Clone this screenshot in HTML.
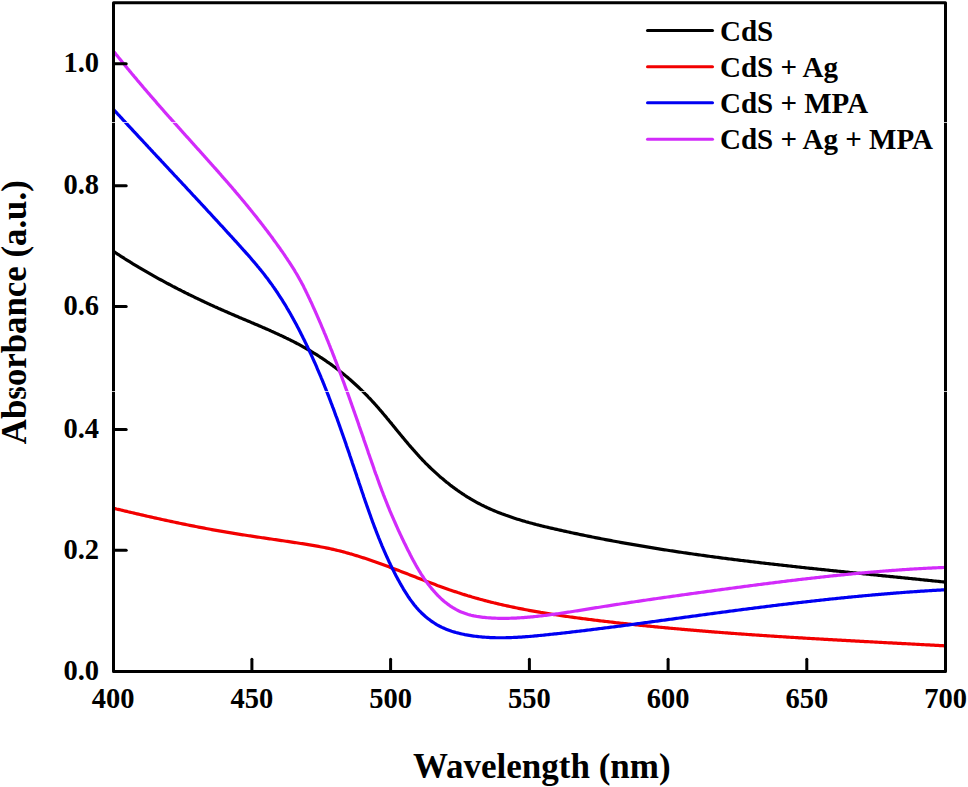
<!DOCTYPE html>
<html><head><meta charset="utf-8"><style>
html,body{margin:0;padding:0;background:#fff;}
svg{display:block;}
text{font-family:"Liberation Serif",serif;font-weight:bold;fill:#000;}
</style></head><body>
<svg width="968" height="787" viewBox="0 0 968 787">
<rect width="968" height="787" fill="#fff"/>
<g fill="none" stroke-width="3.2" stroke-linejoin="round" stroke-linecap="butt">
<path d="M113.4,251.34 L114.7,252.18 L116.0,253.01 L117.2,253.84 L118.5,254.67 L119.8,255.49 L121.0,256.31 L122.3,257.12 L123.6,257.93 L124.8,258.74 L126.1,259.54 L127.4,260.34 L128.7,261.14 L130.0,261.93 L131.2,262.72 L132.5,263.51 L133.8,264.29 L135.1,265.07 L136.4,265.85 L137.7,266.62 L138.9,267.39 L140.2,268.16 L141.5,268.93 L142.8,269.69 L144.1,270.44 L145.4,271.20 L146.7,271.95 L148.0,272.70 L149.3,273.44 L150.6,274.18 L151.9,274.92 L153.2,275.66 L154.5,276.39 L155.8,277.12 L157.1,277.84 L158.4,278.57 L159.7,279.29 L161.1,280.01 L162.4,280.72 L163.7,281.43 L165.0,282.14 L166.3,282.85 L167.6,283.55 L169.0,284.25 L170.3,284.95 L171.6,285.65 L172.9,286.34 L174.3,287.03 L175.6,287.72 L176.9,288.40 L178.2,289.08 L179.6,289.76 L180.9,290.44 L182.2,291.11 L183.6,291.79 L184.9,292.45 L186.2,293.12 L187.6,293.79 L188.9,294.45 L190.3,295.11 L191.6,295.76 L193.0,296.42 L194.3,297.07 L195.6,297.72 L197.0,298.37 L198.3,299.02 L199.7,299.66 L201.0,300.30 L202.4,300.94 L203.8,301.57 L205.1,302.21 L206.5,302.84 L207.8,303.47 L209.2,304.10 L210.5,304.73 L211.9,305.35 L213.3,305.97 L214.6,306.59 L216.0,307.21 L217.4,307.82 L218.7,308.44 L220.1,309.05 L221.5,309.66 L222.9,310.27 L224.2,310.87 L225.6,311.48 L227.0,312.08 L228.4,312.68 L229.7,313.28 L231.1,313.88 L232.5,314.47 L233.9,315.07 L235.3,315.66 L236.7,316.25 L238.1,316.84 L239.4,317.43 L240.8,318.02 L242.2,318.61 L243.6,319.20 L245.0,319.79 L246.4,320.38 L247.8,320.96 L249.2,321.55 L250.6,322.14 L251.9,322.73 L253.3,323.32 L254.7,323.91 L256.1,324.50 L257.5,325.09 L258.9,325.69 L260.3,326.28 L261.7,326.88 L263.0,327.48 L264.4,328.08 L265.8,328.68 L267.2,329.29 L268.6,329.89 L270.0,330.50 L271.3,331.12 L272.7,331.73 L274.1,332.35 L275.4,332.97 L276.8,333.60 L278.2,334.23 L279.5,334.86 L280.9,335.49 L282.3,336.13 L283.6,336.78 L285.0,337.43 L286.3,338.08 L287.7,338.74 L289.0,339.40 L290.4,340.06 L291.7,340.74 L293.1,341.41 L294.4,342.09 L295.7,342.78 L297.0,343.47 L298.4,344.17 L299.7,344.88 L301.0,345.59 L302.3,346.31 L303.6,347.03 L304.9,347.76 L306.2,348.50 L307.5,349.24 L308.8,349.99 L310.1,350.75 L311.4,351.51 L312.7,352.29 L313.9,353.06 L315.2,353.85 L316.5,354.64 L317.7,355.44 L319.0,356.25 L320.2,357.06 L321.5,357.88 L322.7,358.70 L324.0,359.54 L325.2,360.38 L326.4,361.22 L327.6,362.07 L328.9,362.93 L330.1,363.80 L331.3,364.67 L332.5,365.55 L333.7,366.44 L334.9,367.33 L336.1,368.23 L337.3,369.13 L338.4,370.04 L339.6,370.96 L340.8,371.89 L341.9,372.82 L343.1,373.76 L344.3,374.70 L345.4,375.65 L346.5,376.61 L347.7,377.57 L348.8,378.54 L350.0,379.51 L351.1,380.49 L352.2,381.48 L353.3,382.47 L354.4,383.47 L355.5,384.48 L356.6,385.49 L357.7,386.51 L358.8,387.54 L359.9,388.57 L361.0,389.60 L362.0,390.64 L363.1,391.69 L364.2,392.75 L365.2,393.81 L366.3,394.87 L367.3,395.95 L368.3,397.02 L369.4,398.11 L370.4,399.20 L371.4,400.29 L372.4,401.40 L373.5,402.50 L374.5,403.61 L375.5,404.73 L376.5,405.85 L377.5,406.98 L378.5,408.11 L379.4,409.24 L380.4,410.38 L381.4,411.52 L382.4,412.67 L383.3,413.82 L384.3,414.97 L385.3,416.12 L386.3,417.28 L387.2,418.44 L388.2,419.60 L389.1,420.76 L390.1,421.93 L391.1,423.09 L392.0,424.26 L393.0,425.43 L393.9,426.60 L394.9,427.77 L395.8,428.94 L396.8,430.11 L397.7,431.28 L398.7,432.44 L399.7,433.61 L400.6,434.78 L401.6,435.95 L402.5,437.11 L403.5,438.28 L404.5,439.44 L405.4,440.60 L406.4,441.76 L407.4,442.91 L408.3,444.06 L409.3,445.21 L410.3,446.36 L411.3,447.50 L412.3,448.64 L413.3,449.78 L414.3,450.91 L415.3,452.04 L416.3,453.16 L417.3,454.28 L418.3,455.40 L419.3,456.50 L420.3,457.61 L421.4,458.71 L422.4,459.80 L423.4,460.88 L424.5,461.97 L425.5,463.04 L426.6,464.11 L427.7,465.17 L428.7,466.23 L429.8,467.28 L430.9,468.32 L432.0,469.36 L433.1,470.39 L434.2,471.41 L435.3,472.42 L436.4,473.43 L437.5,474.43 L438.6,475.43 L439.7,476.42 L440.9,477.40 L442.0,478.37 L443.2,479.33 L444.3,480.29 L445.5,481.24 L446.6,482.18 L447.8,483.11 L449.0,484.04 L450.1,484.95 L451.3,485.86 L452.5,486.76 L453.7,487.65 L454.9,488.53 L456.1,489.40 L457.3,490.27 L458.6,491.12 L459.8,491.97 L461.0,492.81 L462.2,493.63 L463.5,494.45 L464.7,495.26 L466.0,496.06 L467.2,496.85 L468.5,497.63 L469.8,498.40 L471.0,499.16 L472.3,499.91 L473.6,500.65 L474.9,501.37 L476.2,502.09 L477.5,502.80 L478.8,503.50 L480.1,504.18 L481.4,504.86 L482.8,505.52 L484.1,506.18 L485.4,506.82 L486.8,507.46 L488.1,508.08 L489.5,508.69 L490.8,509.30 L492.2,509.89 L493.6,510.48 L494.9,511.05 L496.3,511.62 L497.7,512.18 L499.1,512.73 L500.5,513.27 L501.8,513.80 L503.2,514.32 L504.6,514.84 L506.0,515.35 L507.5,515.85 L508.9,516.34 L510.3,516.83 L511.7,517.31 L513.1,517.78 L514.5,518.24 L516.0,518.70 L517.4,519.15 L518.8,519.59 L520.3,520.03 L521.7,520.46 L523.1,520.89 L524.6,521.31 L526.0,521.73 L527.5,522.13 L528.9,522.54 L530.4,522.94 L531.8,523.33 L533.3,523.72 L534.8,524.11 L536.2,524.49 L537.7,524.86 L539.2,525.23 L540.6,525.60 L542.1,525.97 L543.6,526.33 L545.0,526.68 L546.5,527.04 L548.0,527.39 L549.4,527.73 L550.9,528.08 L552.4,528.42 L553.9,528.76 L555.3,529.10 L556.8,529.43 L558.3,529.77 L559.8,530.10 L561.2,530.43 L562.7,530.75 L564.2,531.08 L565.7,531.41 L567.1,531.73 L568.6,532.05 L570.1,532.37 L571.6,532.69 L573.0,533.00 L574.5,533.32 L576.0,533.63 L577.5,533.94 L578.9,534.25 L580.4,534.56 L581.9,534.87 L583.4,535.17 L584.8,535.48 L586.3,535.78 L587.8,536.08 L589.3,536.38 L590.8,536.68 L592.2,536.97 L593.7,537.27 L595.2,537.56 L596.7,537.85 L598.1,538.14 L599.6,538.43 L601.1,538.72 L602.6,539.00 L604.0,539.29 L605.5,539.57 L607.0,539.85 L608.5,540.13 L610.0,540.41 L611.4,540.69 L612.9,540.97 L614.4,541.24 L615.9,541.51 L617.3,541.78 L618.8,542.05 L620.3,542.32 L621.8,542.59 L623.3,542.86 L624.7,543.12 L626.2,543.39 L627.7,543.65 L629.2,543.91 L630.7,544.17 L632.1,544.43 L633.6,544.68 L635.1,544.94 L636.6,545.19 L638.1,545.45 L639.5,545.70 L641.0,545.95 L642.5,546.20 L644.0,546.45 L645.4,546.69 L646.9,546.94 L648.4,547.19 L649.9,547.43 L651.4,547.67 L652.8,547.91 L654.3,548.15 L655.8,548.39 L657.3,548.63 L658.8,548.86 L660.2,549.10 L661.7,549.33 L663.2,549.57 L664.7,549.80 L666.2,550.03 L667.7,550.26 L669.1,550.49 L670.6,550.71 L672.1,550.94 L673.6,551.16 L675.1,551.39 L676.5,551.61 L678.0,551.83 L679.5,552.05 L681.0,552.27 L682.5,552.49 L683.9,552.71 L685.4,552.93 L686.9,553.14 L688.4,553.36 L689.9,553.57 L691.4,553.78 L692.8,554.00 L694.3,554.21 L695.8,554.42 L697.3,554.63 L698.8,554.83 L700.3,555.04 L701.7,555.25 L703.2,555.45 L704.7,555.66 L706.2,555.86 L707.7,556.06 L709.2,556.26 L710.6,556.46 L712.1,556.66 L713.6,556.86 L715.1,557.06 L716.6,557.26 L718.1,557.45 L719.5,557.65 L721.0,557.84 L722.5,558.04 L724.0,558.23 L725.5,558.42 L727.0,558.61 L728.4,558.80 L729.9,558.99 L731.4,559.18 L732.9,559.37 L734.4,559.56 L735.9,559.74 L737.3,559.93 L738.8,560.12 L740.3,560.30 L741.8,560.48 L743.3,560.67 L744.8,560.85 L746.3,561.03 L747.7,561.21 L749.2,561.39 L750.7,561.57 L752.2,561.75 L753.7,561.93 L755.2,562.11 L756.7,562.28 L758.1,562.46 L759.6,562.64 L761.1,562.81 L762.6,562.98 L764.1,563.16 L765.6,563.33 L767.1,563.50 L768.6,563.68 L770.0,563.85 L771.5,564.02 L773.0,564.19 L774.5,564.36 L776.0,564.53 L777.5,564.70 L779.0,564.86 L780.5,565.03 L781.9,565.20 L783.4,565.37 L784.9,565.53 L786.4,565.70 L787.9,565.86 L789.4,566.03 L790.9,566.19 L792.4,566.36 L793.8,566.52 L795.3,566.68 L796.8,566.84 L798.3,567.01 L799.8,567.17 L801.3,567.33 L802.8,567.49 L804.3,567.65 L805.8,567.81 L807.2,567.97 L808.7,568.13 L810.2,568.29 L811.7,568.45 L813.2,568.60 L814.7,568.76 L816.2,568.92 L817.7,569.08 L819.2,569.23 L820.7,569.39 L822.1,569.55 L823.6,569.70 L825.1,569.86 L826.6,570.01 L828.1,570.17 L829.6,570.32 L831.1,570.48 L832.6,570.63 L834.1,570.79 L835.6,570.94 L837.1,571.09 L838.5,571.25 L840.0,571.40 L841.5,571.55 L843.0,571.71 L844.5,571.86 L846.0,572.01 L847.5,572.16 L849.0,572.32 L850.5,572.47 L852.0,572.62 L853.5,572.77 L855.0,572.92 L856.4,573.07 L857.9,573.22 L859.4,573.38 L860.9,573.53 L862.4,573.68 L863.9,573.83 L865.4,573.98 L866.9,574.13 L868.4,574.28 L869.9,574.43 L871.4,574.58 L872.9,574.73 L874.4,574.88 L875.9,575.03 L877.4,575.18 L878.8,575.33 L880.3,575.48 L881.8,575.64 L883.3,575.79 L884.8,575.94 L886.3,576.09 L887.8,576.24 L889.3,576.39 L890.8,576.54 L892.3,576.69 L893.8,576.84 L895.3,576.99 L896.8,577.14 L898.3,577.29 L899.8,577.44 L901.3,577.59 L902.8,577.75 L904.3,577.90 L905.8,578.05 L907.3,578.20 L908.8,578.35 L910.2,578.51 L911.7,578.66 L913.2,578.81 L914.7,578.96 L916.2,579.12 L917.7,579.27 L919.2,579.42 L920.7,579.57 L922.2,579.73 L923.7,579.88 L925.2,580.04 L926.7,580.19 L928.2,580.34 L929.7,580.50 L931.2,580.65 L932.7,580.81 L934.2,580.97 L935.7,581.12 L937.2,581.28 L938.7,581.43 L940.2,581.59 L941.7,581.75 L943.2,581.91 L944.7,582.06 L944.8,582.07" stroke="#000000"/>
<path d="M113.6,508.26 L115.1,508.61 L116.5,508.97 L118.0,509.32 L119.5,509.67 L120.9,510.02 L122.4,510.37 L123.8,510.72 L125.3,511.07 L126.8,511.41 L128.2,511.76 L129.7,512.10 L131.2,512.45 L132.6,512.79 L134.1,513.14 L135.5,513.48 L137.0,513.82 L138.5,514.16 L139.9,514.50 L141.4,514.83 L142.8,515.17 L144.3,515.51 L145.8,515.84 L147.2,516.18 L148.7,516.51 L150.2,516.84 L151.6,517.17 L153.1,517.50 L154.5,517.83 L156.0,518.15 L157.5,518.48 L158.9,518.81 L160.4,519.13 L161.9,519.45 L163.3,519.77 L164.8,520.09 L166.2,520.41 L167.7,520.73 L169.2,521.04 L170.6,521.36 L172.1,521.67 L173.6,521.98 L175.0,522.29 L176.5,522.60 L178.0,522.91 L179.4,523.22 L180.9,523.52 L182.4,523.82 L183.8,524.13 L185.3,524.43 L186.8,524.72 L188.2,525.02 L189.7,525.32 L191.2,525.61 L192.6,525.90 L194.1,526.19 L195.6,526.48 L197.1,526.77 L198.5,527.06 L200.0,527.34 L201.5,527.63 L202.9,527.91 L204.4,528.19 L205.9,528.46 L207.4,528.74 L208.8,529.01 L210.3,529.29 L211.8,529.56 L213.2,529.83 L214.7,530.09 L216.2,530.36 L217.7,530.62 L219.1,530.88 L220.6,531.14 L222.1,531.40 L223.6,531.65 L225.1,531.91 L226.5,532.16 L228.0,532.41 L229.5,532.66 L231.0,532.90 L232.5,533.15 L233.9,533.39 L235.4,533.63 L236.9,533.87 L238.4,534.10 L239.9,534.34 L241.3,534.57 L242.8,534.81 L244.3,535.04 L245.8,535.27 L247.3,535.49 L248.8,535.72 L250.3,535.95 L251.7,536.17 L253.2,536.40 L254.7,536.62 L256.2,536.84 L257.7,537.06 L259.2,537.28 L260.7,537.50 L262.1,537.72 L263.6,537.94 L265.1,538.16 L266.6,538.38 L268.1,538.60 L269.6,538.81 L271.1,539.03 L272.6,539.25 L274.0,539.47 L275.5,539.69 L277.0,539.90 L278.5,540.12 L280.0,540.34 L281.5,540.56 L283.0,540.78 L284.5,541.00 L286.0,541.22 L287.4,541.44 L288.9,541.66 L290.4,541.88 L291.9,542.11 L293.4,542.33 L294.9,542.56 L296.4,542.78 L297.8,543.01 L299.3,543.24 L300.8,543.47 L302.3,543.70 L303.8,543.93 L305.3,544.17 L306.8,544.41 L308.2,544.65 L309.7,544.89 L311.2,545.14 L312.7,545.39 L314.2,545.64 L315.6,545.90 L317.1,546.16 L318.6,546.42 L320.1,546.70 L321.5,546.97 L323.0,547.25 L324.5,547.54 L326.0,547.84 L327.4,548.14 L328.9,548.44 L330.4,548.76 L331.8,549.08 L333.3,549.40 L334.7,549.74 L336.2,550.08 L337.6,550.43 L339.1,550.79 L340.6,551.16 L342.0,551.53 L343.4,551.91 L344.9,552.30 L346.3,552.69 L347.8,553.09 L349.2,553.49 L350.6,553.91 L352.1,554.32 L353.5,554.75 L354.9,555.18 L356.4,555.61 L357.8,556.05 L359.2,556.50 L360.7,556.95 L362.1,557.41 L363.5,557.87 L364.9,558.33 L366.4,558.80 L367.8,559.28 L369.2,559.76 L370.6,560.24 L372.0,560.73 L373.4,561.22 L374.9,561.72 L376.3,562.21 L377.7,562.72 L379.1,563.22 L380.5,563.73 L381.9,564.24 L383.3,564.76 L384.7,565.28 L386.1,565.80 L387.5,566.32 L388.9,566.85 L390.3,567.38 L391.8,567.91 L393.2,568.44 L394.6,568.97 L396.0,569.51 L397.4,570.04 L398.8,570.58 L400.2,571.12 L401.6,571.66 L403.0,572.20 L404.4,572.75 L405.8,573.29 L407.2,573.83 L408.6,574.38 L410.0,574.92 L411.4,575.47 L412.8,576.01 L414.2,576.55 L415.6,577.10 L417.0,577.64 L418.4,578.19 L419.8,578.73 L421.2,579.27 L422.6,579.81 L424.0,580.35 L425.4,580.89 L426.8,581.42 L428.2,581.96 L429.6,582.49 L431.0,583.02 L432.4,583.55 L433.8,584.08 L435.2,584.60 L436.6,585.13 L438.0,585.65 L439.5,586.16 L440.9,586.68 L442.3,587.19 L443.7,587.70 L445.1,588.20 L446.5,588.70 L447.9,589.20 L449.3,589.70 L450.8,590.19 L452.2,590.67 L453.6,591.16 L455.0,591.63 L456.4,592.11 L457.8,592.58 L459.3,593.04 L460.7,593.50 L462.1,593.96 L463.5,594.41 L465.0,594.85 L466.4,595.29 L467.8,595.73 L469.3,596.16 L470.7,596.59 L472.1,597.01 L473.6,597.42 L475.0,597.84 L476.5,598.25 L477.9,598.65 L479.3,599.05 L480.8,599.44 L482.2,599.83 L483.7,600.22 L485.1,600.60 L486.6,600.98 L488.0,601.35 L489.5,601.72 L490.9,602.09 L492.4,602.45 L493.8,602.81 L495.3,603.16 L496.7,603.51 L498.2,603.86 L499.6,604.20 L501.1,604.54 L502.5,604.88 L504.0,605.21 L505.5,605.53 L506.9,605.86 L508.4,606.18 L509.8,606.49 L511.3,606.81 L512.8,607.12 L514.2,607.42 L515.7,607.73 L517.2,608.03 L518.6,608.32 L520.1,608.62 L521.6,608.91 L523.0,609.19 L524.5,609.48 L526.0,609.76 L527.5,610.04 L528.9,610.31 L530.4,610.58 L531.9,610.85 L533.4,611.12 L534.8,611.38 L536.3,611.64 L537.8,611.90 L539.3,612.15 L540.7,612.41 L542.2,612.65 L543.7,612.90 L545.2,613.15 L546.7,613.39 L548.1,613.63 L549.6,613.87 L551.1,614.10 L552.6,614.33 L554.1,614.56 L555.6,614.79 L557.0,615.02 L558.5,615.24 L560.0,615.46 L561.5,615.68 L563.0,615.90 L564.5,616.12 L566.0,616.33 L567.4,616.54 L568.9,616.75 L570.4,616.96 L571.9,617.16 L573.4,617.37 L574.9,617.57 L576.4,617.77 L577.9,617.97 L579.3,618.17 L580.8,618.37 L582.3,618.56 L583.8,618.75 L585.3,618.95 L586.8,619.14 L588.3,619.33 L589.8,619.51 L591.3,619.70 L592.8,619.89 L594.3,620.07 L595.7,620.25 L597.2,620.44 L598.7,620.62 L600.2,620.80 L601.7,620.98 L603.2,621.16 L604.7,621.33 L606.2,621.51 L607.7,621.68 L609.2,621.86 L610.7,622.03 L612.1,622.20 L613.6,622.38 L615.1,622.55 L616.6,622.72 L618.1,622.88 L619.6,623.05 L621.1,623.22 L622.6,623.38 L624.1,623.55 L625.6,623.71 L627.1,623.87 L628.6,624.04 L630.1,624.20 L631.5,624.36 L633.0,624.52 L634.5,624.68 L636.0,624.83 L637.5,624.99 L639.0,625.14 L640.5,625.30 L642.0,625.45 L643.5,625.61 L645.0,625.76 L646.5,625.91 L648.0,626.06 L649.5,626.21 L651.0,626.36 L652.4,626.51 L653.9,626.65 L655.4,626.80 L656.9,626.95 L658.4,627.09 L659.9,627.23 L661.4,627.38 L662.9,627.52 L664.4,627.66 L665.9,627.80 L667.4,627.94 L668.9,628.08 L670.4,628.22 L671.9,628.36 L673.4,628.49 L674.8,628.63 L676.3,628.77 L677.8,628.90 L679.3,629.03 L680.8,629.17 L682.3,629.30 L683.8,629.43 L685.3,629.56 L686.8,629.69 L688.3,629.82 L689.8,629.95 L691.3,630.08 L692.8,630.21 L694.3,630.33 L695.8,630.46 L697.3,630.58 L698.7,630.71 L700.2,630.83 L701.7,630.96 L703.2,631.08 L704.7,631.20 L706.2,631.32 L707.7,631.44 L709.2,631.56 L710.7,631.68 L712.2,631.80 L713.7,631.92 L715.2,632.04 L716.7,632.15 L718.2,632.27 L719.7,632.39 L721.2,632.50 L722.7,632.62 L724.2,632.73 L725.7,632.84 L727.2,632.96 L728.6,633.07 L730.1,633.18 L731.6,633.29 L733.1,633.40 L734.6,633.51 L736.1,633.62 L737.6,633.73 L739.1,633.84 L740.6,633.94 L742.1,634.05 L743.6,634.16 L745.1,634.26 L746.6,634.37 L748.1,634.48 L749.6,634.58 L751.1,634.68 L752.6,634.79 L754.1,634.89 L755.6,634.99 L757.1,635.10 L758.6,635.20 L760.1,635.30 L761.5,635.40 L763.0,635.50 L764.5,635.60 L766.0,635.70 L767.5,635.80 L769.0,635.90 L770.5,636.00 L772.0,636.09 L773.5,636.19 L775.0,636.29 L776.5,636.38 L778.0,636.48 L779.5,636.58 L781.0,636.67 L782.5,636.77 L784.0,636.86 L785.5,636.95 L787.0,637.05 L788.5,637.14 L790.0,637.23 L791.5,637.33 L793.0,637.42 L794.5,637.51 L796.0,637.60 L797.5,637.69 L799.0,637.78 L800.5,637.88 L802.0,637.97 L803.5,638.06 L804.9,638.14 L806.4,638.23 L807.9,638.32 L809.4,638.41 L810.9,638.50 L812.4,638.59 L813.9,638.68 L815.4,638.76 L816.9,638.85 L818.4,638.94 L819.9,639.02 L821.4,639.11 L822.9,639.20 L824.4,639.28 L825.9,639.37 L827.4,639.45 L828.9,639.54 L830.4,639.62 L831.9,639.71 L833.4,639.79 L834.9,639.88 L836.4,639.96 L837.9,640.05 L839.4,640.13 L840.9,640.21 L842.4,640.30 L843.9,640.38 L845.4,640.46 L846.9,640.54 L848.4,640.63 L849.9,640.71 L851.4,640.79 L852.9,640.87 L854.4,640.96 L855.9,641.04 L857.4,641.12 L858.9,641.20 L860.4,641.28 L861.8,641.36 L863.3,641.44 L864.8,641.53 L866.3,641.61 L867.8,641.69 L869.3,641.77 L870.8,641.85 L872.3,641.93 L873.8,642.01 L875.3,642.09 L876.8,642.17 L878.3,642.25 L879.8,642.33 L881.3,642.41 L882.8,642.49 L884.3,642.57 L885.8,642.65 L887.3,642.73 L888.8,642.81 L890.3,642.89 L891.8,642.97 L893.3,643.05 L894.8,643.13 L896.3,643.21 L897.8,643.29 L899.3,643.37 L900.8,643.45 L902.3,643.53 L903.8,643.61 L905.3,643.69 L906.8,643.77 L908.3,643.85 L909.8,643.93 L911.3,644.01 L912.8,644.09 L914.3,644.17 L915.8,644.25 L917.3,644.33 L918.8,644.41 L920.3,644.49 L921.8,644.57 L923.3,644.65 L924.8,644.73 L926.3,644.81 L927.8,644.89 L929.3,644.97 L930.8,645.06 L932.3,645.14 L933.8,645.22 L935.3,645.30 L936.8,645.38 L938.3,645.46 L939.8,645.54 L941.3,645.63 L942.8,645.71 L944.3,645.79 L944.7,645.82" stroke="#f20000"/>
<path d="M113.7,109.63 L114.7,110.73 L115.7,111.84 L116.7,112.94 L117.7,114.04 L118.8,115.14 L119.8,116.25 L120.8,117.35 L121.8,118.45 L122.8,119.55 L123.8,120.65 L124.9,121.75 L125.9,122.85 L126.9,123.95 L127.9,125.05 L128.9,126.15 L130.0,127.25 L131.0,128.35 L132.0,129.45 L133.0,130.55 L134.0,131.65 L135.1,132.75 L136.1,133.85 L137.1,134.95 L138.1,136.05 L139.1,137.15 L140.2,138.25 L141.2,139.34 L142.2,140.44 L143.2,141.54 L144.2,142.64 L145.3,143.74 L146.3,144.83 L147.3,145.93 L148.3,147.03 L149.4,148.13 L150.4,149.22 L151.4,150.32 L152.4,151.42 L153.4,152.52 L154.5,153.61 L155.5,154.71 L156.5,155.81 L157.5,156.91 L158.6,158.00 L159.6,159.10 L160.6,160.20 L161.6,161.29 L162.7,162.39 L163.7,163.49 L164.7,164.59 L165.7,165.68 L166.8,166.78 L167.8,167.88 L168.8,168.97 L169.8,170.07 L170.8,171.17 L171.9,172.26 L172.9,173.36 L173.9,174.46 L174.9,175.56 L176.0,176.65 L177.0,177.75 L178.0,178.85 L179.0,179.95 L180.1,181.04 L181.1,182.14 L182.1,183.24 L183.1,184.34 L184.2,185.44 L185.2,186.53 L186.2,187.63 L187.2,188.73 L188.2,189.83 L189.3,190.93 L190.3,192.03 L191.3,193.12 L192.3,194.22 L193.3,195.32 L194.4,196.42 L195.4,197.52 L196.4,198.62 L197.4,199.72 L198.5,200.82 L199.5,201.92 L200.5,203.02 L201.5,204.12 L202.5,205.22 L203.6,206.32 L204.6,207.42 L205.6,208.52 L206.6,209.62 L207.6,210.73 L208.6,211.83 L209.7,212.93 L210.7,214.03 L211.7,215.13 L212.7,216.24 L213.7,217.34 L214.7,218.44 L215.8,219.55 L216.8,220.65 L217.8,221.75 L218.8,222.86 L219.8,223.96 L220.8,225.07 L221.9,226.17 L222.9,227.28 L223.9,228.38 L224.9,229.49 L225.9,230.59 L226.9,231.70 L227.9,232.81 L228.9,233.91 L229.9,235.02 L231.0,236.13 L232.0,237.24 L233.0,238.34 L234.0,239.45 L235.0,240.56 L236.0,241.67 L237.0,242.78 L238.0,243.89 L239.0,245.00 L240.0,246.11 L241.0,247.23 L242.0,248.34 L243.0,249.46 L244.0,250.57 L245.0,251.69 L246.0,252.81 L247.0,253.93 L248.0,255.06 L249.0,256.18 L250.0,257.31 L251.0,258.44 L251.9,259.57 L252.9,260.71 L253.9,261.84 L254.9,262.98 L255.8,264.13 L256.8,265.27 L257.7,266.42 L258.7,267.58 L259.6,268.73 L260.6,269.89 L261.5,271.06 L262.5,272.22 L263.4,273.39 L264.3,274.57 L265.2,275.75 L266.1,276.94 L267.1,278.12 L268.0,279.32 L268.8,280.52 L269.7,281.72 L270.6,282.93 L271.5,284.14 L272.4,285.36 L273.2,286.58 L274.1,287.81 L274.9,289.05 L275.8,290.28 L276.6,291.53 L277.5,292.77 L278.3,294.02 L279.1,295.28 L279.9,296.54 L280.7,297.80 L281.6,299.07 L282.4,300.34 L283.1,301.62 L283.9,302.90 L284.7,304.18 L285.5,305.46 L286.3,306.75 L287.0,308.05 L287.8,309.34 L288.6,310.64 L289.3,311.94 L290.1,313.25 L290.8,314.56 L291.5,315.87 L292.3,317.18 L293.0,318.50 L293.7,319.82 L294.5,321.14 L295.2,322.46 L295.9,323.78 L296.6,325.11 L297.3,326.44 L298.0,327.77 L298.7,329.11 L299.4,330.44 L300.1,331.78 L300.7,333.11 L301.4,334.45 L302.1,335.79 L302.8,337.14 L303.4,338.48 L304.1,339.83 L304.8,341.17 L305.4,342.52 L306.1,343.87 L306.7,345.22 L307.4,346.58 L308.0,347.93 L308.7,349.29 L309.3,350.65 L309.9,352.00 L310.5,353.37 L311.2,354.73 L311.8,356.09 L312.4,357.45 L313.0,358.82 L313.6,360.19 L314.2,361.56 L314.9,362.92 L315.5,364.30 L316.1,365.67 L316.7,367.04 L317.2,368.42 L317.8,369.79 L318.4,371.17 L319.0,372.55 L319.6,373.93 L320.2,375.31 L320.8,376.69 L321.3,378.07 L321.9,379.46 L322.5,380.84 L323.0,382.23 L323.6,383.61 L324.2,385.00 L324.7,386.39 L325.3,387.78 L325.8,389.17 L326.4,390.56 L326.9,391.96 L327.5,393.35 L328.0,394.75 L328.6,396.14 L329.1,397.54 L329.6,398.94 L330.2,400.34 L330.7,401.73 L331.2,403.14 L331.8,404.54 L332.3,405.94 L332.8,407.34 L333.4,408.74 L333.9,410.15 L334.4,411.55 L334.9,412.96 L335.4,414.37 L335.9,415.77 L336.5,417.18 L337.0,418.59 L337.5,420.00 L338.0,421.41 L338.5,422.82 L339.0,424.23 L339.5,425.64 L340.0,427.06 L340.5,428.47 L341.0,429.88 L341.5,431.30 L342.0,432.71 L342.5,434.13 L343.0,435.54 L343.5,436.96 L344.0,438.38 L344.5,439.79 L345.0,441.21 L345.5,442.63 L346.0,444.05 L346.4,445.46 L346.9,446.88 L347.4,448.30 L347.9,449.72 L348.4,451.14 L348.9,452.56 L349.4,453.98 L349.8,455.41 L350.3,456.83 L350.8,458.25 L351.3,459.67 L351.8,461.09 L352.2,462.52 L352.7,463.94 L353.2,465.36 L353.7,466.78 L354.2,468.21 L354.6,469.63 L355.1,471.05 L355.6,472.48 L356.1,473.90 L356.6,475.32 L357.0,476.75 L357.5,478.17 L358.0,479.60 L358.5,481.02 L358.9,482.44 L359.4,483.87 L359.9,485.29 L360.4,486.71 L360.9,488.14 L361.3,489.56 L361.8,490.98 L362.3,492.41 L362.8,493.83 L363.3,495.25 L363.7,496.67 L364.2,498.09 L364.7,499.51 L365.2,500.93 L365.7,502.35 L366.2,503.77 L366.7,505.19 L367.2,506.60 L367.7,508.02 L368.2,509.44 L368.7,510.85 L369.2,512.27 L369.7,513.68 L370.2,515.09 L370.7,516.50 L371.2,517.91 L371.7,519.32 L372.2,520.73 L372.7,522.14 L373.3,523.54 L373.8,524.95 L374.3,526.35 L374.8,527.75 L375.4,529.15 L375.9,530.55 L376.4,531.95 L377.0,533.34 L377.5,534.74 L378.1,536.13 L378.6,537.52 L379.2,538.91 L379.8,540.30 L380.3,541.69 L380.9,543.07 L381.5,544.46 L382.0,545.84 L382.6,547.22 L383.2,548.59 L383.8,549.97 L384.4,551.34 L385.0,552.71 L385.6,554.08 L386.2,555.45 L386.8,556.81 L387.5,558.18 L388.1,559.54 L388.7,560.90 L389.3,562.25 L390.0,563.60 L390.6,564.96 L391.3,566.30 L391.9,567.65 L392.6,568.99 L393.3,570.34 L394.0,571.67 L394.6,573.01 L395.3,574.34 L396.0,575.67 L396.7,577.00 L397.4,578.32 L398.1,579.65 L398.9,580.97 L399.6,582.28 L400.3,583.59 L401.1,584.90 L401.8,586.21 L402.6,587.51 L403.3,588.81 L404.1,590.11 L404.9,591.39 L405.7,592.67 L406.5,593.94 L407.3,595.21 L408.1,596.46 L409.0,597.71 L409.8,598.95 L410.7,600.17 L411.6,601.38 L412.5,602.58 L413.4,603.77 L414.3,604.95 L415.3,606.11 L416.2,607.25 L417.2,608.38 L418.2,609.49 L419.2,610.59 L420.3,611.67 L421.3,612.73 L422.4,613.77 L423.5,614.79 L424.6,615.79 L425.7,616.77 L426.9,617.72 L428.1,618.66 L429.3,619.57 L430.5,620.46 L431.7,621.33 L432.9,622.17 L434.2,622.99 L435.5,623.78 L436.7,624.55 L438.0,625.29 L439.3,626.00 L440.7,626.69 L442.0,627.34 L443.4,627.97 L444.7,628.57 L446.1,629.15 L447.5,629.70 L448.9,630.23 L450.3,630.73 L451.7,631.21 L453.2,631.67 L454.6,632.10 L456.0,632.52 L457.5,632.91 L459.0,633.28 L460.4,633.64 L461.9,633.97 L463.4,634.29 L464.8,634.59 L466.3,634.87 L467.8,635.14 L469.3,635.39 L470.8,635.63 L472.2,635.85 L473.7,636.06 L475.2,636.25 L476.7,636.44 L478.2,636.61 L479.7,636.76 L481.2,636.91 L482.7,637.04 L484.1,637.16 L485.6,637.27 L487.1,637.37 L488.6,637.46 L490.1,637.53 L491.6,637.60 L493.1,637.65 L494.6,637.69 L496.1,637.73 L497.6,637.75 L499.1,637.77 L500.6,637.77 L502.1,637.77 L503.6,637.76 L505.1,637.74 L506.6,637.71 L508.1,637.67 L509.6,637.63 L511.0,637.58 L512.5,637.52 L514.0,637.45 L515.5,637.38 L517.0,637.30 L518.5,637.22 L520.0,637.13 L521.5,637.03 L523.0,636.93 L524.5,636.82 L526.0,636.71 L527.5,636.59 L529.0,636.47 L530.5,636.35 L532.0,636.22 L533.5,636.08 L535.0,635.95 L536.5,635.81 L538.0,635.66 L539.5,635.52 L541.0,635.37 L542.5,635.22 L544.0,635.07 L545.5,634.91 L547.0,634.76 L548.5,634.60 L550.0,634.44 L551.5,634.28 L553.0,634.12 L554.5,633.96 L556.0,633.80 L557.5,633.64 L559.0,633.47 L560.4,633.31 L561.9,633.14 L563.4,632.97 L564.9,632.81 L566.4,632.64 L567.9,632.47 L569.4,632.30 L570.9,632.13 L572.4,631.95 L573.9,631.78 L575.4,631.61 L576.9,631.43 L578.4,631.25 L579.8,631.08 L581.3,630.90 L582.8,630.72 L584.3,630.54 L585.8,630.36 L587.3,630.18 L588.8,630.00 L590.3,629.82 L591.8,629.64 L593.3,629.45 L594.7,629.27 L596.2,629.08 L597.7,628.90 L599.2,628.71 L600.7,628.52 L602.2,628.34 L603.7,628.15 L605.2,627.96 L606.6,627.77 L608.1,627.58 L609.6,627.39 L611.1,627.20 L612.6,627.01 L614.1,626.82 L615.6,626.62 L617.1,626.43 L618.5,626.24 L620.0,626.04 L621.5,625.85 L623.0,625.65 L624.5,625.46 L626.0,625.26 L627.5,625.06 L629.0,624.87 L630.4,624.67 L631.9,624.47 L633.4,624.27 L634.9,624.08 L636.4,623.88 L637.9,623.68 L639.3,623.48 L640.8,623.28 L642.3,623.08 L643.8,622.88 L645.3,622.68 L646.8,622.48 L648.3,622.28 L649.7,622.08 L651.2,621.87 L652.7,621.67 L654.2,621.47 L655.7,621.27 L657.2,621.07 L658.7,620.86 L660.1,620.66 L661.6,620.46 L663.1,620.26 L664.6,620.05 L666.1,619.85 L667.6,619.65 L669.0,619.44 L670.5,619.24 L672.0,619.04 L673.5,618.83 L675.0,618.63 L676.5,618.43 L678.0,618.22 L679.4,618.02 L680.9,617.82 L682.4,617.61 L683.9,617.41 L685.4,617.21 L686.9,617.00 L688.3,616.80 L689.8,616.60 L691.3,616.39 L692.8,616.19 L694.3,615.99 L695.8,615.79 L697.3,615.58 L698.7,615.38 L700.2,615.18 L701.7,614.98 L703.2,614.78 L704.7,614.58 L706.2,614.37 L707.6,614.17 L709.1,613.97 L710.6,613.77 L712.1,613.57 L713.6,613.37 L715.1,613.17 L716.6,612.97 L718.1,612.78 L719.5,612.58 L721.0,612.38 L722.5,612.18 L724.0,611.98 L725.5,611.79 L727.0,611.59 L728.5,611.39 L729.9,611.20 L731.4,611.00 L732.9,610.81 L734.4,610.61 L735.9,610.42 L737.4,610.22 L738.9,610.03 L740.4,609.83 L741.8,609.64 L743.3,609.45 L744.8,609.26 L746.3,609.07 L747.8,608.87 L749.3,608.68 L750.8,608.49 L752.3,608.30 L753.7,608.11 L755.2,607.92 L756.7,607.73 L758.2,607.55 L759.7,607.36 L761.2,607.17 L762.7,606.98 L764.2,606.80 L765.6,606.61 L767.1,606.43 L768.6,606.24 L770.1,606.06 L771.6,605.88 L773.1,605.69 L774.6,605.51 L776.1,605.33 L777.6,605.15 L779.1,604.96 L780.5,604.78 L782.0,604.60 L783.5,604.43 L785.0,604.25 L786.5,604.07 L788.0,603.89 L789.5,603.71 L791.0,603.54 L792.5,603.36 L794.0,603.19 L795.4,603.01 L796.9,602.84 L798.4,602.67 L799.9,602.49 L801.4,602.32 L802.9,602.15 L804.4,601.98 L805.9,601.81 L807.4,601.64 L808.9,601.47 L810.3,601.30 L811.8,601.14 L813.3,600.97 L814.8,600.81 L816.3,600.64 L817.8,600.48 L819.3,600.31 L820.8,600.15 L822.3,599.99 L823.8,599.83 L825.3,599.67 L826.8,599.51 L828.2,599.35 L829.7,599.19 L831.2,599.03 L832.7,598.87 L834.2,598.72 L835.7,598.56 L837.2,598.41 L838.7,598.26 L840.2,598.10 L841.7,597.95 L843.2,597.80 L844.7,597.65 L846.2,597.50 L847.6,597.35 L849.1,597.20 L850.6,597.06 L852.1,596.91 L853.6,596.76 L855.1,596.62 L856.6,596.48 L858.1,596.33 L859.6,596.19 L861.1,596.05 L862.6,595.91 L864.1,595.77 L865.6,595.63 L867.1,595.50 L868.6,595.36 L870.0,595.23 L871.5,595.09 L873.0,594.96 L874.5,594.83 L876.0,594.69 L877.5,594.56 L879.0,594.43 L880.5,594.31 L882.0,594.18 L883.5,594.05 L885.0,593.93 L886.5,593.80 L888.0,593.68 L889.5,593.55 L891.0,593.43 L892.5,593.31 L894.0,593.19 L895.5,593.07 L896.9,592.96 L898.4,592.84 L899.9,592.72 L901.4,592.61 L902.9,592.50 L904.4,592.38 L905.9,592.27 L907.4,592.16 L908.9,592.05 L910.4,591.95 L911.9,591.84 L913.4,591.73 L914.9,591.63 L916.4,591.53 L917.9,591.42 L919.4,591.32 L920.9,591.22 L922.4,591.12 L923.9,591.03 L925.4,590.93 L926.9,590.83 L928.4,590.74 L929.9,590.65 L931.3,590.55 L932.8,590.46 L934.3,590.37 L935.8,590.29 L937.3,590.20 L938.8,590.11 L940.3,590.03 L941.8,589.95 L943.3,589.86 L944.7,589.79" stroke="#0000f2"/>
<path d="M113.5,51.20 L114.4,52.38 L115.4,53.55 L116.3,54.72 L117.3,55.89 L118.2,57.05 L119.2,58.22 L120.1,59.39 L121.1,60.55 L122.0,61.71 L122.9,62.88 L123.9,64.04 L124.9,65.20 L125.8,66.36 L126.8,67.51 L127.7,68.67 L128.7,69.83 L129.6,70.98 L130.6,72.13 L131.5,73.29 L132.5,74.44 L133.5,75.59 L134.4,76.74 L135.4,77.89 L136.4,79.04 L137.3,80.18 L138.3,81.33 L139.3,82.47 L140.2,83.62 L141.2,84.76 L142.2,85.90 L143.1,87.05 L144.1,88.19 L145.1,89.33 L146.1,90.46 L147.0,91.60 L148.0,92.74 L149.0,93.88 L150.0,95.01 L150.9,96.15 L151.9,97.28 L152.9,98.41 L153.9,99.55 L154.9,100.68 L155.9,101.81 L156.8,102.94 L157.8,104.07 L158.8,105.20 L159.8,106.33 L160.8,107.45 L161.8,108.58 L162.8,109.71 L163.7,110.83 L164.7,111.96 L165.7,113.08 L166.7,114.21 L167.7,115.33 L168.7,116.45 L169.7,117.57 L170.7,118.69 L171.7,119.81 L172.7,120.93 L173.7,122.05 L174.7,123.17 L175.7,124.29 L176.7,125.41 L177.7,126.53 L178.7,127.64 L179.7,128.76 L180.7,129.88 L181.7,130.99 L182.7,132.11 L183.7,133.22 L184.7,134.34 L185.7,135.45 L186.7,136.57 L187.7,137.68 L188.7,138.80 L189.7,139.91 L190.7,141.02 L191.7,142.14 L192.7,143.25 L193.7,144.37 L194.7,145.48 L195.7,146.60 L196.7,147.71 L197.7,148.82 L198.7,149.94 L199.7,151.05 L200.7,152.17 L201.7,153.28 L202.7,154.40 L203.7,155.52 L204.7,156.63 L205.7,157.75 L206.7,158.87 L207.7,159.98 L208.7,161.10 L209.7,162.22 L210.7,163.34 L211.7,164.46 L212.7,165.58 L213.7,166.70 L214.7,167.82 L215.7,168.94 L216.7,170.07 L217.7,171.19 L218.7,172.31 L219.7,173.44 L220.7,174.56 L221.6,175.69 L222.6,176.82 L223.6,177.95 L224.6,179.08 L225.6,180.21 L226.6,181.34 L227.6,182.47 L228.5,183.61 L229.5,184.74 L230.5,185.88 L231.5,187.01 L232.5,188.15 L233.4,189.29 L234.4,190.43 L235.4,191.57 L236.3,192.72 L237.3,193.86 L238.3,195.01 L239.3,196.15 L240.2,197.30 L241.2,198.45 L242.1,199.60 L243.1,200.76 L244.1,201.91 L245.0,203.07 L246.0,204.23 L246.9,205.39 L247.9,206.55 L248.8,207.71 L249.8,208.87 L250.7,210.04 L251.7,211.21 L252.6,212.37 L253.5,213.54 L254.5,214.72 L255.4,215.89 L256.4,217.06 L257.3,218.24 L258.2,219.42 L259.1,220.60 L260.1,221.78 L261.0,222.97 L261.9,224.15 L262.8,225.34 L263.7,226.53 L264.7,227.72 L265.6,228.91 L266.5,230.10 L267.4,231.30 L268.3,232.50 L269.2,233.70 L270.1,234.90 L271.0,236.10 L271.9,237.31 L272.8,238.52 L273.6,239.72 L274.5,240.93 L275.4,242.15 L276.3,243.36 L277.2,244.58 L278.0,245.80 L278.9,247.02 L279.8,248.24 L280.6,249.47 L281.5,250.69 L282.4,251.92 L283.2,253.15 L284.1,254.39 L284.9,255.62 L285.7,256.86 L286.6,258.10 L287.4,259.35 L288.2,260.59 L289.1,261.84 L289.9,263.10 L290.7,264.36 L291.5,265.62 L292.3,266.88 L293.1,268.15 L293.9,269.42 L294.7,270.70 L295.4,271.98 L296.2,273.26 L297.0,274.55 L297.7,275.84 L298.5,277.14 L299.2,278.44 L299.9,279.75 L300.7,281.06 L301.4,282.38 L302.1,283.70 L302.8,285.03 L303.5,286.36 L304.1,287.70 L304.8,289.04 L305.5,290.39 L306.1,291.73 L306.8,293.08 L307.4,294.44 L308.1,295.79 L308.7,297.15 L309.4,298.51 L310.0,299.87 L310.6,301.23 L311.3,302.60 L311.9,303.96 L312.5,305.33 L313.1,306.70 L313.7,308.06 L314.4,309.43 L315.0,310.80 L315.6,312.17 L316.2,313.54 L316.8,314.92 L317.4,316.29 L318.0,317.66 L318.6,319.04 L319.2,320.42 L319.8,321.79 L320.4,323.17 L321.0,324.55 L321.5,325.93 L322.1,327.31 L322.7,328.69 L323.3,330.08 L323.9,331.46 L324.4,332.84 L325.0,334.23 L325.6,335.61 L326.2,337.00 L326.7,338.39 L327.3,339.77 L327.9,341.16 L328.4,342.55 L329.0,343.94 L329.5,345.33 L330.1,346.73 L330.6,348.12 L331.2,349.51 L331.8,350.91 L332.3,352.30 L332.8,353.70 L333.4,355.09 L333.9,356.49 L334.5,357.89 L335.0,359.28 L335.6,360.68 L336.1,362.08 L336.6,363.48 L337.2,364.88 L337.7,366.28 L338.2,367.68 L338.8,369.09 L339.3,370.49 L339.8,371.89 L340.3,373.30 L340.9,374.70 L341.4,376.11 L341.9,377.51 L342.4,378.92 L342.9,380.32 L343.5,381.73 L344.0,383.14 L344.5,384.55 L345.0,385.95 L345.5,387.36 L346.0,388.77 L346.5,390.18 L347.1,391.59 L347.6,393.00 L348.1,394.41 L348.6,395.82 L349.1,397.24 L349.6,398.65 L350.1,400.06 L350.6,401.47 L351.1,402.89 L351.6,404.30 L352.1,405.71 L352.6,407.13 L353.1,408.54 L353.6,409.96 L354.1,411.37 L354.6,412.79 L355.1,414.20 L355.6,415.62 L356.1,417.04 L356.6,418.45 L357.1,419.87 L357.6,421.29 L358.1,422.70 L358.6,424.12 L359.0,425.54 L359.5,426.96 L360.0,428.37 L360.5,429.79 L361.0,431.21 L361.5,432.63 L362.0,434.05 L362.5,435.47 L363.0,436.89 L363.5,438.30 L363.9,439.72 L364.4,441.14 L364.9,442.56 L365.4,443.98 L365.9,445.40 L366.4,446.82 L366.9,448.24 L367.4,449.66 L367.9,451.08 L368.3,452.50 L368.8,453.92 L369.3,455.34 L369.8,456.76 L370.3,458.18 L370.8,459.59 L371.3,461.01 L371.8,462.43 L372.3,463.85 L372.8,465.27 L373.3,466.68 L373.8,468.10 L374.2,469.52 L374.7,470.93 L375.2,472.35 L375.7,473.76 L376.3,475.17 L376.8,476.59 L377.3,478.00 L377.8,479.41 L378.3,480.82 L378.8,482.23 L379.3,483.64 L379.8,485.04 L380.3,486.45 L380.9,487.85 L381.4,489.26 L381.9,490.66 L382.5,492.06 L383.0,493.46 L383.5,494.86 L384.1,496.25 L384.6,497.65 L385.2,499.04 L385.7,500.43 L386.3,501.82 L386.8,503.21 L387.4,504.60 L387.9,505.99 L388.5,507.37 L389.1,508.75 L389.6,510.14 L390.2,511.52 L390.8,512.90 L391.4,514.27 L392.0,515.65 L392.6,517.03 L393.2,518.40 L393.8,519.77 L394.4,521.14 L395.0,522.51 L395.6,523.88 L396.2,525.25 L396.8,526.61 L397.4,527.98 L398.0,529.34 L398.6,530.70 L399.3,532.06 L399.9,533.42 L400.5,534.78 L401.2,536.14 L401.8,537.49 L402.4,538.85 L403.1,540.20 L403.7,541.55 L404.4,542.90 L405.1,544.25 L405.7,545.60 L406.4,546.95 L407.0,548.29 L407.7,549.64 L408.4,550.98 L409.1,552.33 L409.8,553.67 L410.4,555.00 L411.1,556.34 L411.8,557.67 L412.5,559.00 L413.2,560.33 L414.0,561.65 L414.7,562.97 L415.4,564.29 L416.1,565.60 L416.9,566.90 L417.6,568.20 L418.4,569.50 L419.2,570.78 L420.0,572.07 L420.7,573.34 L421.5,574.61 L422.4,575.87 L423.2,577.12 L424.0,578.36 L424.9,579.60 L425.7,580.83 L426.6,582.05 L427.5,583.25 L428.4,584.45 L429.3,585.64 L430.2,586.82 L431.2,587.99 L432.1,589.15 L433.1,590.29 L434.1,591.42 L435.1,592.54 L436.1,593.65 L437.1,594.75 L438.2,595.82 L439.3,596.89 L440.3,597.93 L441.4,598.95 L442.6,599.96 L443.7,600.95 L444.8,601.91 L446.0,602.85 L447.2,603.77 L448.4,604.66 L449.6,605.53 L450.8,606.37 L452.1,607.18 L453.3,607.97 L454.6,608.72 L455.9,609.45 L457.2,610.14 L458.5,610.80 L459.9,611.43 L461.2,612.02 L462.6,612.57 L464.0,613.09 L465.4,613.58 L466.8,614.04 L468.2,614.47 L469.7,614.87 L471.1,615.23 L472.6,615.58 L474.0,615.89 L475.5,616.18 L477.0,616.45 L478.5,616.69 L480.0,616.91 L481.5,617.12 L483.0,617.30 L484.5,617.46 L486.0,617.61 L487.5,617.74 L489.0,617.86 L490.5,617.96 L492.0,618.05 L493.6,618.13 L495.1,618.19 L496.6,618.25 L498.1,618.29 L499.6,618.32 L501.1,618.34 L502.6,618.35 L504.1,618.36 L505.6,618.35 L507.1,618.33 L508.6,618.30 L510.1,618.26 L511.6,618.21 L513.1,618.16 L514.6,618.10 L516.1,618.03 L517.6,617.95 L519.1,617.86 L520.6,617.77 L522.1,617.66 L523.6,617.56 L525.1,617.44 L526.5,617.32 L528.0,617.20 L529.5,617.07 L531.0,616.93 L532.5,616.79 L534.0,616.64 L535.5,616.49 L537.0,616.33 L538.5,616.17 L540.0,616.00 L541.4,615.83 L542.9,615.66 L544.4,615.48 L545.9,615.30 L547.4,615.11 L548.9,614.92 L550.4,614.73 L551.8,614.53 L553.3,614.33 L554.8,614.13 L556.3,613.92 L557.8,613.72 L559.3,613.50 L560.7,613.29 L562.2,613.07 L563.7,612.85 L565.2,612.63 L566.7,612.41 L568.2,612.18 L569.6,611.96 L571.1,611.73 L572.6,611.50 L574.1,611.27 L575.6,611.03 L577.1,610.80 L578.5,610.56 L580.0,610.33 L581.5,610.09 L583.0,609.85 L584.5,609.61 L585.9,609.37 L587.4,609.13 L588.9,608.89 L590.4,608.65 L591.9,608.42 L593.4,608.18 L594.8,607.94 L596.3,607.70 L597.8,607.46 L599.3,607.22 L600.8,606.99 L602.2,606.75 L603.7,606.52 L605.2,606.28 L606.7,606.05 L608.2,605.82 L609.7,605.59 L611.1,605.35 L612.6,605.12 L614.1,604.89 L615.6,604.67 L617.1,604.44 L618.6,604.21 L620.0,603.98 L621.5,603.76 L623.0,603.53 L624.5,603.30 L626.0,603.08 L627.5,602.86 L628.9,602.63 L630.4,602.41 L631.9,602.19 L633.4,601.97 L634.9,601.74 L636.4,601.52 L637.8,601.30 L639.3,601.08 L640.8,600.87 L642.3,600.65 L643.8,600.43 L645.3,600.21 L646.7,600.00 L648.2,599.78 L649.7,599.56 L651.2,599.35 L652.7,599.13 L654.2,598.92 L655.6,598.71 L657.1,598.49 L658.6,598.28 L660.1,598.07 L661.6,597.85 L663.1,597.64 L664.6,597.43 L666.0,597.22 L667.5,597.01 L669.0,596.80 L670.5,596.59 L672.0,596.38 L673.5,596.17 L674.9,595.96 L676.4,595.76 L677.9,595.55 L679.4,595.34 L680.9,595.13 L682.4,594.93 L683.9,594.72 L685.3,594.51 L686.8,594.31 L688.3,594.10 L689.8,593.89 L691.3,593.69 L692.8,593.48 L694.3,593.28 L695.7,593.08 L697.2,592.87 L698.7,592.67 L700.2,592.46 L701.7,592.26 L703.2,592.06 L704.7,591.85 L706.1,591.65 L707.6,591.45 L709.1,591.24 L710.6,591.04 L712.1,590.84 L713.6,590.64 L715.1,590.44 L716.5,590.23 L718.0,590.03 L719.5,589.83 L721.0,589.63 L722.5,589.43 L724.0,589.23 L725.5,589.03 L726.9,588.83 L728.4,588.63 L729.9,588.43 L731.4,588.23 L732.9,588.03 L734.4,587.83 L735.9,587.63 L737.4,587.43 L738.8,587.24 L740.3,587.04 L741.8,586.84 L743.3,586.65 L744.8,586.45 L746.3,586.25 L747.8,586.06 L749.2,585.86 L750.7,585.67 L752.2,585.47 L753.7,585.28 L755.2,585.09 L756.7,584.89 L758.2,584.70 L759.7,584.51 L761.1,584.32 L762.6,584.13 L764.1,583.94 L765.6,583.75 L767.1,583.56 L768.6,583.37 L770.1,583.18 L771.6,582.99 L773.0,582.80 L774.5,582.62 L776.0,582.43 L777.5,582.24 L779.0,582.06 L780.5,581.87 L782.0,581.69 L783.5,581.51 L785.0,581.32 L786.4,581.14 L787.9,580.96 L789.4,580.78 L790.9,580.60 L792.4,580.42 L793.9,580.24 L795.4,580.06 L796.9,579.89 L798.4,579.71 L799.8,579.53 L801.3,579.36 L802.8,579.19 L804.3,579.01 L805.8,578.84 L807.3,578.67 L808.8,578.50 L810.3,578.33 L811.8,578.16 L813.3,577.99 L814.7,577.82 L816.2,577.65 L817.7,577.49 L819.2,577.32 L820.7,577.16 L822.2,576.99 L823.7,576.83 L825.2,576.67 L826.7,576.51 L828.2,576.35 L829.7,576.19 L831.1,576.03 L832.6,575.87 L834.1,575.71 L835.6,575.56 L837.1,575.40 L838.6,575.25 L840.1,575.10 L841.6,574.95 L843.1,574.80 L844.6,574.65 L846.1,574.50 L847.6,574.35 L849.0,574.20 L850.5,574.06 L852.0,573.91 L853.5,573.77 L855.0,573.63 L856.5,573.49 L858.0,573.35 L859.5,573.21 L861.0,573.07 L862.5,572.93 L864.0,572.80 L865.5,572.66 L867.0,572.53 L868.5,572.40 L869.9,572.27 L871.4,572.14 L872.9,572.01 L874.4,571.88 L875.9,571.76 L877.4,571.63 L878.9,571.51 L880.4,571.38 L881.9,571.26 L883.4,571.14 L884.9,571.02 L886.4,570.91 L887.9,570.79 L889.4,570.68 L890.9,570.56 L892.4,570.45 L893.9,570.34 L895.4,570.23 L896.9,570.12 L898.4,570.02 L899.9,569.91 L901.3,569.81 L902.8,569.70 L904.3,569.60 L905.8,569.50 L907.3,569.40 L908.8,569.31 L910.3,569.21 L911.8,569.12 L913.3,569.02 L914.8,568.93 L916.3,568.84 L917.8,568.75 L919.3,568.67 L920.8,568.58 L922.3,568.50 L923.8,568.42 L925.3,568.34 L926.8,568.26 L928.3,568.18 L929.8,568.10 L931.3,568.03 L932.8,567.96 L934.3,567.88 L935.8,567.81 L937.3,567.75 L938.8,567.68 L940.3,567.61 L941.8,567.55 L943.3,567.49 L944.7,567.43" stroke="#d22bfa"/>
</g>
<g stroke="#000" stroke-width="3" stroke-linecap="round">
<line x1="251.9" y1="671.5" x2="251.9" y2="659.2"/>
<line x1="390.6" y1="671.5" x2="390.6" y2="659.2"/>
<line x1="529.4" y1="671.5" x2="529.4" y2="659.2"/>
<line x1="668.1" y1="671.5" x2="668.1" y2="659.2"/>
<line x1="806.8" y1="671.5" x2="806.8" y2="659.2"/>
<line x1="113.5" y1="550.3" x2="126.2" y2="550.3"/>
<line x1="113.5" y1="429.4" x2="126.2" y2="429.4"/>
<line x1="113.5" y1="306.6" x2="126.2" y2="306.6"/>
<line x1="113.5" y1="185.7" x2="126.2" y2="185.7"/>
<line x1="113.5" y1="63.8" x2="126.2" y2="63.8"/>
</g>
<rect x="113.5" y="2.8" width="832" height="668.8" fill="none" stroke="#000" stroke-width="3" stroke-linejoin="round"/>
<g font-size="28.5">
<text x="113.2" y="708" text-anchor="middle">400</text>
<text x="251.9" y="708" text-anchor="middle">450</text>
<text x="390.6" y="708" text-anchor="middle">500</text>
<text x="529.4" y="708" text-anchor="middle">550</text>
<text x="668.1" y="708" text-anchor="middle">600</text>
<text x="806.8" y="708" text-anchor="middle">650</text>
<text x="945.5" y="708" text-anchor="middle">700</text>
<text x="99" y="679.8" text-anchor="end">0.0</text>
<text x="99" y="558.6" text-anchor="end">0.2</text>
<text x="99" y="437.7" text-anchor="end">0.4</text>
<text x="99" y="314.9" text-anchor="end">0.6</text>
<text x="99" y="194.0" text-anchor="end">0.8</text>
<text x="99" y="72.1" text-anchor="end">1.0</text>
</g>
<g stroke-width="3" stroke-linecap="round" font-size="29">
<line x1="647.5" y1="30.5" x2="712.5" y2="30.5" stroke="#000000"/>
<text x="720" y="40.5">CdS</text>
<line x1="647.5" y1="66.8" x2="712.5" y2="66.8" stroke="#f20000"/>
<text x="720" y="76.8">CdS + Ag</text>
<line x1="647.5" y1="102.8" x2="712.5" y2="102.8" stroke="#0000f2"/>
<text x="720" y="112.8">CdS + MPA</text>
<line x1="647.5" y1="139.3" x2="712.5" y2="139.3" stroke="#d22bfa"/>
<text x="720" y="149.3">CdS + Ag + MPA</text>
</g>

<text x="541.8" y="777.8" font-size="35" text-anchor="middle">Wavelength (nm)</text>
<text transform="translate(26,312.2) rotate(-90)" font-size="34.8" text-anchor="middle">Absorbance (a.u.)</text>
<rect x="0" y="122" width="968" height="1" fill="#fff" opacity="0.75"/>
<rect x="0" y="391" width="968" height="1" fill="#fff" opacity="0.75"/>
</svg>
</body></html>
